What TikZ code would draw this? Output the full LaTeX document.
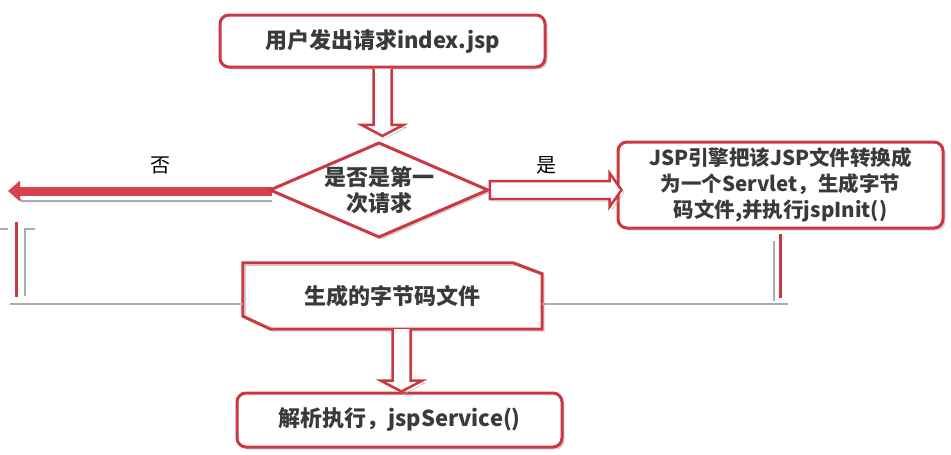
\documentclass[tikz,border=0pt]{standalone}
\usepackage{fontspec}
\setmainfont{Noto Sans CJK SC}
\usetikzlibrary{shapes.geometric,shadows,arrows.meta,calc}
\definecolor{boxred}{RGB}{204,56,66}
\definecolor{fillred}{RGB}{214,66,76}
\definecolor{shadowgray}{RGB}{172,172,172}
\definecolor{textgray}{RGB}{58,58,58}
\begin{document}
\begin{tikzpicture}[x=1pt,y=-1pt,
  boxtext/.style={font=\fontsize{22}{26}\selectfont\bfseries,text=textgray,align=center},
  box/.style={boxtext,draw=boxred,line width=3pt,fill=white,rounded corners=9pt,minimum width=325pt,
    drop shadow={shadow xshift=2.5pt,shadow yshift=-2.5pt,fill=shadowgray}},
  judgebox/.style={boxtext,diamond,aspect=2.3,inner sep=0pt,draw=boxred,line width=3pt,fill=white,
    drop shadow={shadow xshift=2.5pt,shadow yshift=-2.5pt,fill=shadowgray}},
  lbl/.style={font=\fontsize{20}{20}\selectfont,text=black},
  shade/.style={preaction={draw=shadowgray,transform canvas={shift={(2.5pt,-2.5pt)}}}},
  hollow/.style={shade,draw=boxred,line width=2.5pt,fill=white,line join=miter},
  downhollow/.style={hollow,to path={let \p1=(\tikztostart),\p2=(\tikztotarget) in
    (\x1-9pt,\y1) -- (\x1-9pt,\y2+11pt) -- (\x1-21pt,\y2+11pt) -- (\x1,\y2)
    -- (\x1+21pt,\y2+11pt) -- (\x1+9pt,\y2+11pt) -- (\x1+9pt,\y1)}},
  righthollow/.style={hollow,to path={let \p1=(\tikztostart),\p2=(\tikztotarget) in
    (\x1,\y1+9pt) -- (\x2-12pt,\y1+9pt) -- (\x2-12pt,\y1+17pt) -- (\x2,\y1)
    -- (\x2-12pt,\y1-17pt) -- (\x2-12pt,\y1-9pt) -- (\x1,\y1-9pt) -- cycle}},
  noarrow/.style={draw=fillred,line width=9pt,-{Triangle[width=20pt,length=12pt]}},
  greyline/.style={draw=shadowgray,line width=2pt},
  redline/.style={draw=boxred,line width=3pt}]
\useasboundingbox (0,0) rectangle (951,455);
\node[box,minimum height=52pt] (user) at (382.5,41) {用户发出请求index.jsp};
\node[box,minimum height=86pt,font=\fontsize{20.5}{26}\selectfont\bfseries] (jsp) at (780.5,185)
  {JSP引擎把该JSP文件转换成\\为一个Servlet，生成字节\\码文件,并执行jspInit()};
\node[box,minimum height=54pt] (run) at (399.5,420) {解析执行，jspService()};
\node[boxtext,minimum width=299pt,minimum height=66pt,inner sep=0pt] (code) at (392.5,296) {生成的字节码文件};
\draw[shade,draw=boxred,line width=3pt,line join=miter] ([xshift=-29pt]code.north east) -- ([yshift=-11pt]code.north east)
  -- (code.south east) -- ([xshift=28pt]code.south west) -- ([yshift=13pt]code.south west) -- (code.north west) -- cycle;
\coordinate (noend) at (8,191);
\coordinate (noshade) at (22,201);
\draw[greyline] (272,201) -- (noshade) -- (14,195);
\draw[noarrow] (272,191) -- (noend);
\node[judgebox] (judge) at (379,190) {是否是第一\\次请求};
\draw[downhollow] (user.south) to ([yshift=5pt]judge.north);
\draw[downhollow] ([xshift=9pt]code.south) to ([xshift=2.5pt]run.north);
\draw[righthollow] (judge.east) to ([xshift=5pt]jsp.west);
\node[lbl] (no) at (160,165) {否};
\node[lbl] (yes) at (546,165) {是};
\coordinate (rdown) at (780.5,298);
\coordinate (rcorner) at (788,304);
\draw[greyline] (code.east |- rcorner) -- (rcorner);
\draw[greyline] ([xshift=-7pt,yshift=-11pt]jsp.south) -- ([xshift=-7pt,yshift=-3pt]rdown);
\draw[redline] ([yshift=-4pt]jsp.south) -- (rdown);
\coordinate (ltop) at (16,222);
\coordinate (lcorner) at (10,304);
\draw[redline] (ltop) -- ++(0,75);
\draw[greyline] (35,229) -- (25,229) -- (25,296);
\draw[greyline] (0,229) -- (8,229);
\draw[greyline] (code.west |- lcorner) -- (lcorner);
\end{tikzpicture}
\end{document}
